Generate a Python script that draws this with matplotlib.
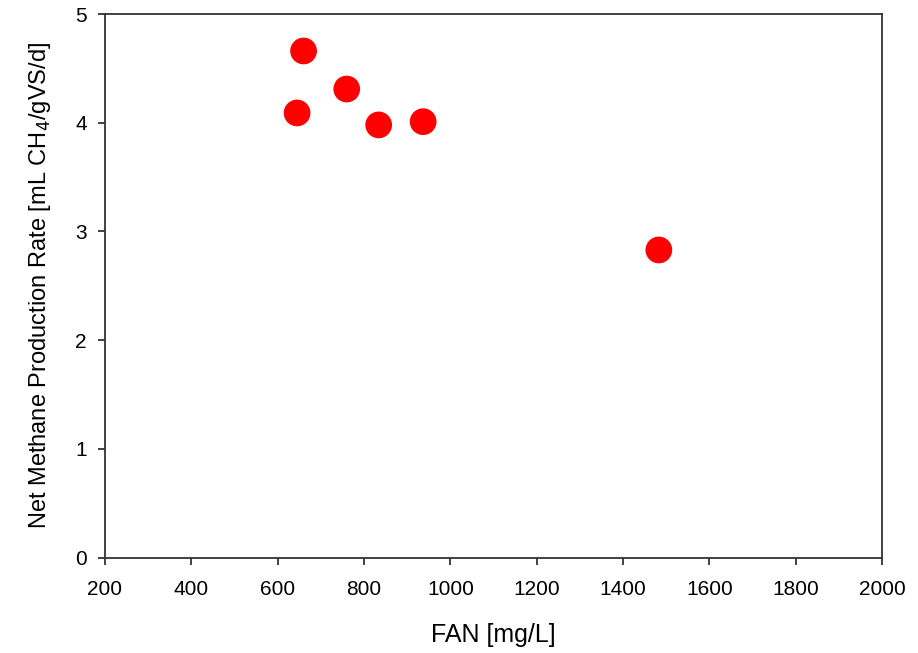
import matplotlib
matplotlib.use("Agg")
import matplotlib.pyplot as plt

plt.rcParams['font.family'] = ['Liberation Sans', 'DejaVu Sans']

# free ammonia nitrogen vs. net methane production rate
fan = [645, 660, 760, 834, 937, 1483]
rate = [4.09, 4.66, 4.31, 3.98, 4.01, 2.83]

fig = plt.figure(figsize=(9.18, 6.53), dpi=100)
ax = fig.add_axes([105/918, 1 - 557.7/653, (882 - 105)/918, (557.7 - 14)/653])

ax.scatter(fan, rate, s=370, color='#ff0000', edgecolors='none', zorder=3, clip_on=False)

ax.set_xlim(200, 2000)
ax.set_ylim(0, 5)
ax.set_xticks(range(200, 2001, 200))
ax.set_yticks(range(0, 6))

for sp in ax.spines.values():
    sp.set_linewidth(1.3)
    sp.set_color('#333333')
ax.tick_params(direction='out', length=5, width=1.3, color='#333333', labelsize=15)
ax.tick_params(axis='x', pad=11)
ax.tick_params(axis='y', pad=8)

ax.set_xlabel('FAN [mg/L]', fontsize=18, labelpad=17)
ax.set_ylabel('Net Methane Production Rate [mL CH$_4$/gVS/d]', fontsize=17, labelpad=16)

fig.savefig('out.png', dpi=100)
